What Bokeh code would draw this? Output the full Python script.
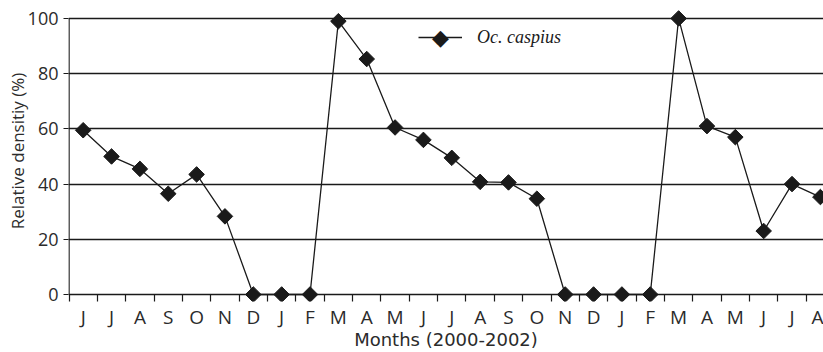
import numpy as np
from bokeh.plotting import figure
from bokeh.models import FixedTicker, Legend, LegendItem, Range1d, ColumnDataSource, Label
from bokeh.embed import file_html
from bokeh.resources import INLINE

# ---- data ----
months = ["J", "J", "A", "S", "O", "N", "D", "J", "F", "M", "A", "M", "J",
          "J", "A", "S", "O", "N", "D", "J", "F", "M", "A", "M", "J", "J", "A"]
density = [59.5, 50, 45.5, 36.5, 43.5, 28.3, 0, 0, 0, 99, 85.3, 60.5, 56,
           49.5, 40.8, 40.6, 34.7, 0, 0, 0, 0, 100, 61, 57, 23, 40, 35.3]
y_ticks = [0, 20, 40, 60, 80, 100]
series_name = "Oc. caspius"
x_title = "Months (2000-2002)"
y_title = "Relative densitiy (%)"

idx = list(range(len(months)))
src = ColumnDataSource(dict(x=idx, y=density))

INK = "#1a1a1a"
TXT = "#2b2b2b"
FONT = "Open Sans"

p = figure(width=823, height=352,
           x_range=Range1d(-0.518, 26.11), y_range=Range1d(-2.54, 106.5),
           output_backend="svg", toolbar_location=None,
           min_border_left=68, min_border_right=0, min_border_top=0,
           min_border_bottom=51)
p.outline_line_color = None
p.background_fill_color = "white"

# grid
p.xgrid.visible = False
p.ygrid.ticker = FixedTicker(ticks=y_ticks)
p.ygrid.grid_line_color = INK
p.ygrid.grid_line_width = 1.3

# x axis
xa = p.xaxis[0]
xa.ticker = FixedTicker(ticks=idx, minor_ticks=[i - 0.5 for i in range(len(months) + 1)])
xa.major_label_overrides = {i: m for i, m in enumerate(months)}
xa.major_tick_line_color = None
xa.major_tick_in = 0
xa.major_tick_out = 0
xa.minor_tick_line_color = INK
xa.minor_tick_line_width = 1.2
xa.minor_tick_in = 7
xa.minor_tick_out = 0
xa.axis_line_color = None
xa.major_label_text_font = FONT
xa.major_label_text_font_size = "19px"
xa.major_label_text_color = TXT
xa.major_label_standoff = 2
xa.axis_label = x_title
xa.axis_label_text_font = "DejaVu Sans"
xa.axis_label_text_font_size = "18px"
xa.axis_label_text_font_style = "normal"
xa.axis_label_text_color = TXT
xa.axis_label_standoff = -4

# y axis
ya = p.yaxis[0]
ya.ticker = FixedTicker(ticks=y_ticks)
ya.major_tick_in = 0
ya.major_tick_out = 5
ya.major_tick_line_color = INK
ya.major_tick_line_width = 1.2
ya.minor_tick_line_color = None
ya.axis_line_color = None
ya.major_label_text_font = FONT
ya.major_label_text_font_size = "18px"
ya.major_label_text_color = TXT
ya.major_label_standoff = 5
ya.axis_label = y_title
ya.axis_label_text_font = FONT
ya.axis_label_text_font_size = "17px"
ya.axis_label_text_font_style = "normal"
ya.axis_label_text_color = TXT
ya.axis_label_standoff = -4

# vertical axis line from 0 to 100
p.segment(x0=[idx[0] - 0.5], y0=[y_ticks[0]], x1=[idx[0] - 0.5], y1=[y_ticks[-1]],
          line_color=INK, line_width=1.4)

# data
lr = p.line("x", "y", source=src, line_color=INK, line_width=1.3)
sr = p.scatter("x", "y", source=src, marker="square", size=11, angle=np.pi / 4,
               fill_color=INK, line_color=INK)

legend = Legend(items=[LegendItem(label=series_name, renderers=[lr])],
                location=(350, 250), glyph_width=44, glyph_height=28,
                label_standoff=15, padding=0, margin=0, spacing=0,
                border_line_color=None, background_fill_alpha=0,
                label_text_font="Liberation Serif", label_text_font_style="italic",
                label_text_font_size="18px", label_text_color=INK)
p.add_layout(legend)
# legend marker (rotated-square diamond)
p.add_layout(Label(x=372, y=264, x_units="screen", y_units="screen", text="\u25c6",
                   text_align="center", text_baseline="middle", text_font="DejaVu Sans",
                   text_font_size="22px", text_color=INK))

open("out.html", "w").write(file_html(p, INLINE))
